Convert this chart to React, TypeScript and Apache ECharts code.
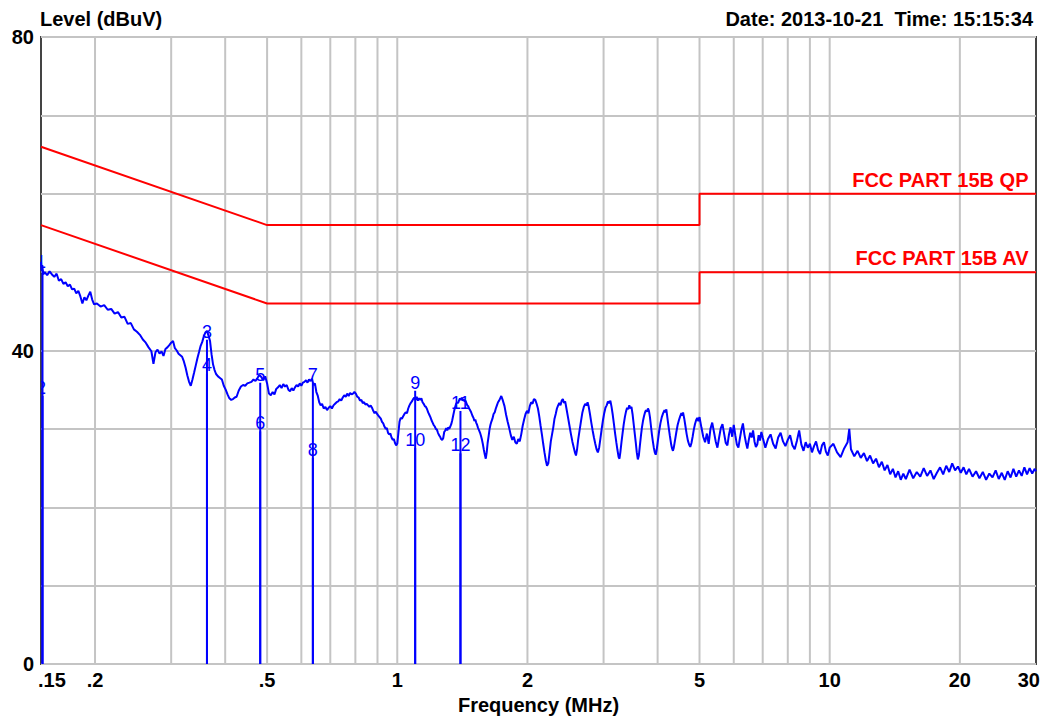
import React, { useEffect, useRef } from "react";
import * as echarts from "echarts";

const FONT = '"Liberation Sans", Arial, Helvetica, sans-serif';

// X axis tick labels (MHz) and log grid lines
const xTickFreqs = [0.15, 0.2, 0.5, 1, 2, 5, 10, 20, 30];
const xTickLabels = [".15", ".2", ".5", "1", "2", "5", "10", "20", "30"];
const xGridFreqs = [0.2, 0.3, 0.4, 0.5, 0.6, 0.7, 0.8, 0.9, 1, 2, 3, 4, 5, 6, 7, 8, 9, 10, 20];

// Y axis (dBuV)
const yMin = 0;
const yMax = 80;
const yStep = 10;
const yLabelValues = [0, 40, 80];

// Limit lines [MHz, dBuV]
const qpLimit: [number, number][] = [[0.15, 66], [0.5, 56], [5, 56], [5, 60], [30, 60]];
const avLimit: [number, number][] = [[0.15, 56], [0.5, 46], [5, 46], [5, 50], [30, 50]];
const qpLabel = "FCC PART 15B QP";
const avLabel = "FCC PART 15B AV";

// Markers
const markerNumbers = [1, 2, 3, 4, 5, 6, 7, 8, 9, 10, 11, 12];
const markerFreqs = [0.15, 0.15, 0.363, 0.363, 0.482, 0.482, 0.638, 0.638, 1.1, 1.1, 1.4, 1.4];
const markerLevels = [51.3, 35.2, 42.4, 38.1, 36.9, 30.7, 36.9, 27.3, 35.9, 28.6, 33.3, 27.9];

// Measured trace [MHz, dBuV]
const trace: [number, number][] = [
  [0.15, 51.3], [0.1505, 50.2], [0.151, 50.9], [0.1518, 49.7], [0.153, 50.0], [0.155, 49.6], [0.157, 50.1], [0.159, 49.7],
  [0.161, 49.4], [0.163, 49.8], [0.165, 48.9], [0.167, 49.1], [0.169, 48.5], [0.171, 48.7], [0.173, 48.2], [0.175, 48.4],
  [0.177, 47.8], [0.179, 47.9], [0.181, 47.3], [0.183, 47.6], [0.185, 46.9], [0.187, 46.0], [0.189, 46.8], [0.191, 46.4],
  [0.193, 47.0], [0.195, 47.5], [0.197, 46.5], [0.199, 45.9], [0.202, 46.0], [0.206, 45.6], [0.21, 45.8], [0.214, 45.2],
  [0.218, 45.3], [0.222, 44.7], [0.226, 44.9], [0.23, 44.2], [0.234, 44.3], [0.238, 43.4], [0.242, 43.5], [0.246, 42.7],
  [0.25, 42.4], [0.254, 42.0], [0.258, 41.4], [0.262, 41.0], [0.266, 40.4], [0.27, 39.9], [0.273, 38.3], [0.276, 39.8],
  [0.279, 40.1], [0.282, 39.6], [0.285, 39.9], [0.288, 39.3], [0.291, 40.2], [0.294, 40.4], [0.297, 40.7], [0.3, 41.0],
  [0.303, 41.2], [0.306, 40.3], [0.309, 40.0], [0.312, 39.6], [0.315, 39.4], [0.318, 39.2], [0.321, 38.6], [0.324, 37.8],
  [0.327, 36.8], [0.33, 36.0], [0.333, 35.5], [0.336, 36.3], [0.339, 37.2], [0.342, 38.1], [0.345, 39.0], [0.348, 39.8],
  [0.351, 40.6], [0.354, 41.1], [0.357, 41.8], [0.36, 42.3], [0.363, 42.5], [0.366, 41.9], [0.369, 41.2], [0.372, 39.5],
  [0.375, 38.2], [0.378, 37.5], [0.381, 37.0], [0.385, 36.7], [0.389, 36.5], [0.393, 36.3], [0.397, 35.5], [0.401, 35.0],
  [0.405, 34.4], [0.409, 33.9], [0.413, 33.7], [0.417, 33.8], [0.421, 34.0], [0.425, 34.1], [0.43, 34.9], [0.435, 35.4],
  [0.44, 35.6], [0.445, 35.5], [0.45, 35.8], [0.455, 35.9], [0.46, 36.0], [0.465, 36.3], [0.47, 36.1], [0.475, 36.5],
  [0.48, 36.9], [0.485, 36.6], [0.49, 36.2], [0.495, 36.7], [0.5, 35.8],
  [0.505, 34.5], [0.51, 34.3], [0.515, 34.7], [0.52, 34.4], [0.525, 35.1], [0.53, 35.3], [0.535, 35.6], [0.54, 35.2],
  [0.545, 35.7], [0.55, 35.4], [0.555, 35.6], [0.56, 35.0], [0.565, 34.8], [0.57, 35.2], [0.575, 34.9], [0.58, 35.3],
  [0.585, 35.6], [0.59, 35.4], [0.595, 35.8], [0.6, 35.5], [0.605, 35.9], [0.61, 36.0], [0.615, 36.2], [0.62, 35.9],
  [0.625, 36.3], [0.63, 36.1], [0.635, 36.4], [0.64, 35.6], [0.645, 35.8], [0.65, 34.7], [0.655, 34.2], [0.66, 33.4],
  [0.665, 33.0], [0.67, 33.2], [0.676, 32.6], [0.682, 32.8], [0.688, 32.4], [0.694, 32.7], [0.7, 32.9], [0.706, 32.6],
  [0.712, 33.0], [0.718, 33.2], [0.724, 33.4], [0.73, 33.5], [0.736, 33.8], [0.742, 33.6], [0.748, 34.0], [0.754, 34.3],
  [0.76, 34.1], [0.766, 34.5], [0.772, 34.2], [0.778, 34.6], [0.784, 34.4], [0.79, 34.5], [0.796, 34.7], [0.802, 34.5],
  [0.808, 34.1], [0.814, 34.0], [0.82, 33.6], [0.826, 33.7], [0.832, 33.3], [0.838, 33.4], [0.844, 33.1], [0.85, 33.2],
  [0.856, 33.0], [0.862, 32.8], [0.868, 33.0], [0.874, 32.7], [0.88, 32.3], [0.886, 32.0], [0.892, 32.2], [0.898, 31.9],
  [0.904, 31.7], [0.91, 31.5], [0.916, 31.3], [0.922, 30.9], [0.928, 30.7], [0.934, 30.3], [0.94, 30.0], [0.946, 30.1],
  [0.952, 29.5], [0.958, 29.3], [0.964, 29.4], [0.97, 28.9], [0.976, 28.6], [0.982, 28.7], [0.988, 28.2], [0.994, 27.9],
  [1.0, 28.1],
  [1.006, 29.5], [1.012, 30.9], [1.018, 31.4], [1.025, 31.3], [1.032, 31.6], [1.039, 31.9], [1.046, 32.1], [1.053, 32.0],
  [1.06, 32.6], [1.067, 33.0], [1.074, 33.3], [1.081, 33.5], [1.088, 33.8], [1.095, 34.0], [1.102, 33.7], [1.109, 34.1],
  [1.116, 33.6], [1.123, 33.9], [1.13, 33.7], [1.137, 33.9], [1.144, 33.4], [1.151, 33.2], [1.158, 32.9], [1.165, 32.8],
  [1.172, 32.5], [1.179, 32.1], [1.186, 31.8], [1.193, 31.5], [1.2, 31.1], [1.207, 30.8], [1.214, 30.5], [1.221, 30.3],
  [1.228, 30.0], [1.235, 29.9], [1.242, 29.5], [1.249, 29.2], [1.256, 29.0], [1.263, 28.7], [1.27, 28.6], [1.277, 28.8],
  [1.284, 29.6], [1.291, 29.8], [1.298, 30.1], [1.305, 29.8], [1.312, 30.2], [1.319, 30.0], [1.326, 30.3], [1.333, 30.6],
  [1.34, 31.1], [1.347, 31.7], [1.354, 32.3], [1.361, 32.8], [1.368, 33.2], [1.375, 33.4], [1.382, 33.3], [1.389, 33.6],
  [1.396, 33.9], [1.403, 33.7], [1.41, 34.0], [1.417, 33.6], [1.424, 33.8], [1.431, 33.5], [1.438, 33.6], [1.445, 33.3],
  [1.452, 33.0], [1.459, 32.9], [1.466, 32.6], [1.473, 32.4], [1.48, 32.2], [1.487, 31.9], [1.494, 31.6], [1.501, 31.4],
  [1.508, 31.0], [1.515, 31.2], [1.522, 30.8], [1.53, 30.5], [1.538, 30.1], [1.546, 29.8], [1.554, 29.5], [1.562, 29.1],
  [1.57, 28.6], [1.578, 28.0], [1.586, 27.3], [1.594, 26.7], [1.602, 26.2], [1.61, 27.0], [1.618, 28.2], [1.626, 29.0],
  [1.634, 29.9], [1.642, 30.5], [1.65, 30.9], [1.66, 31.3], [1.67, 31.9], [1.68, 32.1], [1.69, 32.6], [1.7, 33.0],
  [1.71, 33.4], [1.72, 33.6], [1.73, 33.9], [1.74, 34.2],
  [1.755, 33.6], [1.77, 32.9], [1.785, 31.8], [1.8, 30.9], [1.815, 30.1], [1.83, 29.2], [1.845, 28.6], [1.86, 29.0],
  [1.875, 28.3], [1.89, 28.1], [1.905, 28.7], [1.92, 28.4], [1.935, 29.3], [1.95, 30.4], [1.965, 31.2], [1.98, 31.9],
  [1.995, 32.3], [2.01, 32.0], [2.025, 32.9], [2.04, 33.4], [2.055, 33.2], [2.07, 33.8], [2.085, 33.7], [2.1, 33.2],
  [2.115, 32.6], [2.13, 31.6], [2.145, 30.4], [2.16, 29.3], [2.175, 28.1], [2.19, 27.0], [2.205, 26.0], [2.22, 25.3],
  [2.235, 25.6], [2.25, 27.0], [2.265, 28.4], [2.28, 29.3], [2.295, 30.2], [2.31, 31.3], [2.325, 31.9], [2.34, 32.6],
  [2.355, 33.0], [2.37, 33.3], [2.385, 33.0], [2.4, 33.6], [2.415, 33.8], [2.43, 33.3], [2.445, 33.5], [2.46, 32.7],
  [2.48, 31.6], [2.5, 30.5], [2.52, 29.4], [2.54, 28.4], [2.56, 27.6], [2.575, 27.0], [2.59, 26.6], [2.605, 27.4],
  [2.62, 28.6], [2.64, 29.8], [2.66, 31.0], [2.68, 32.1], [2.7, 32.8], [2.72, 33.2], [2.74, 33.0], [2.755, 33.4],
  [2.77, 32.9], [2.79, 31.9], [2.81, 30.8], [2.83, 29.8], [2.85, 28.9], [2.87, 28.1], [2.89, 27.4], [2.91, 27.0],
  [2.93, 27.6], [2.95, 28.8], [2.97, 30.0], [2.99, 31.1], [3.01, 32.0], [3.03, 32.7], [3.05, 33.0], [3.07, 33.5],
  [3.09, 33.3], [3.11, 33.6], [3.13, 32.8], [3.15, 31.8], [3.17, 30.6], [3.19, 29.4], [3.21, 28.3], [3.23, 27.3],
  [3.25, 26.4], [3.265, 26.2], [3.28, 27.0], [3.3, 28.3], [3.32, 29.5], [3.34, 30.6], [3.36, 31.5], [3.38, 32.2],
  [3.4, 32.7], [3.42, 32.5], [3.44, 33.0], [3.46, 32.6], [3.48, 32.8], [3.5, 31.9], [3.52, 30.7], [3.54, 29.5],
  [3.56, 28.3], [3.58, 27.0], [3.6, 26.1], [3.62, 26.6], [3.64, 27.9], [3.66, 29.1], [3.68, 30.2], [3.7, 31.0],
  [3.72, 31.6], [3.74, 32.1], [3.76, 32.4], [3.78, 32.2], [3.8, 32.6], [3.82, 32.3], [3.84, 31.5], [3.86, 30.4],
  [3.88, 29.3], [3.9, 28.4], [3.92, 27.6], [3.94, 27.0], [3.96, 26.7], [3.98, 27.3], [4.0, 28.2], [4.03, 29.6],
  [4.06, 30.7], [4.09, 31.5], [4.12, 32.0], [4.15, 32.4], [4.17, 32.1], [4.19, 32.5], [4.21, 31.6], [4.24, 30.3],
  [4.27, 29.1], [4.3, 28.0], [4.32, 27.5], [4.34, 27.2], [4.36, 27.6], [4.39, 28.6], [4.42, 29.6], [4.45, 30.5],
  [4.48, 31.1], [4.51, 31.6], [4.54, 32.0], [4.56, 31.7], [4.58, 32.1], [4.61, 31.3], [4.64, 30.3], [4.67, 29.3],
  [4.7, 28.5], [4.73, 28.0], [4.76, 27.7], [4.79, 28.2], [4.82, 29.0], [4.85, 29.9], [4.88, 30.6], [4.91, 31.1],
  [4.94, 31.4], [4.97, 31.0], [5.0, 31.5],
  [5.05, 30.2], [5.1, 29.0], [5.15, 28.3], [5.2, 29.4], [5.25, 28.1], [5.3, 30.0], [5.35, 30.8], [5.4, 29.6],
  [5.45, 28.4], [5.5, 27.6], [5.55, 28.9], [5.6, 30.1], [5.65, 30.6], [5.7, 29.4], [5.75, 28.2], [5.8, 27.9],
  [5.85, 29.3], [5.9, 30.2], [5.95, 29.0], [6.0, 30.5], [6.05, 29.2], [6.1, 28.0], [6.15, 27.6], [6.2, 28.8],
  [6.25, 29.9], [6.3, 30.7], [6.35, 29.3], [6.4, 28.3], [6.45, 27.5], [6.5, 28.6], [6.55, 29.5], [6.6, 28.9],
  [6.65, 29.8], [6.7, 28.4], [6.75, 27.7], [6.8, 28.0], [6.85, 29.2], [6.9, 28.5], [6.95, 29.6], [7.0, 28.9],
  [7.1, 27.6], [7.2, 28.7], [7.3, 29.3], [7.4, 28.1], [7.5, 27.5], [7.6, 28.9], [7.7, 29.5], [7.8, 28.4],
  [7.9, 27.8], [8.0, 28.6], [8.1, 29.2], [8.2, 27.9], [8.3, 27.4], [8.4, 28.5], [8.5, 29.8], [8.6, 28.0],
  [8.7, 27.2], [8.8, 28.3], [8.9, 27.6], [9.0, 28.1], [9.1, 27.0], [9.2, 27.8], [9.3, 28.4], [9.4, 27.3],
  [9.5, 26.8], [9.6, 27.9], [9.7, 28.3], [9.8, 27.1], [9.9, 26.6], [10.0, 27.6],
  [10.2, 28.1], [10.4, 27.0], [10.6, 26.4], [10.8, 27.5], [11.0, 28.3], [11.1, 30.0], [11.2, 27.4], [11.4, 26.5],
  [11.6, 27.2], [11.8, 26.3], [12.0, 26.9], [12.2, 25.9], [12.4, 26.6], [12.6, 25.6], [12.8, 26.2], [13.0, 25.1],
  [13.2, 25.8], [13.4, 24.7], [13.6, 25.4], [13.8, 24.2], [14.0, 24.9], [14.2, 23.8], [14.4, 24.6], [14.6, 23.5],
  [14.8, 24.3], [15.0, 23.6], [15.3, 24.8], [15.6, 23.7], [15.9, 24.5], [16.2, 23.9], [16.5, 25.0], [16.8, 24.0],
  [17.1, 24.7], [17.4, 23.6], [17.7, 24.4], [18.0, 25.1], [18.3, 24.2], [18.6, 25.3], [18.9, 24.5], [19.2, 25.6],
  [19.5, 24.7], [19.8, 25.2], [20.1, 24.4], [20.4, 25.1], [20.7, 24.2], [21.0, 24.9], [21.4, 23.9], [21.8, 24.6],
  [22.2, 23.7], [22.6, 24.5], [23.0, 23.5], [23.4, 24.3], [23.8, 23.8], [24.2, 24.7], [24.6, 23.6], [25.0, 24.4],
  [25.4, 23.5], [25.8, 24.6], [26.2, 23.8], [26.6, 24.9], [27.0, 23.9], [27.4, 24.7], [27.8, 24.0], [28.2, 25.1],
  [28.6, 24.2], [29.0, 25.0], [29.4, 24.3], [29.8, 24.9], [30.0, 24.6],
];

const GRID_COLOR = "#c4c4c4";
const BLUE = "#0000ff";
const RED = "#ff0000";

export default function App() {
  const ref = useRef<HTMLDivElement>(null);

  useEffect(() => {
    if (!ref.current) return;
    const chart = echarts.init(ref.current, null, { renderer: "svg" });
    const lastTick = xTickFreqs.length - 1;

    const limitMarkPoint = (coord: [number, number], text: string) => ({
      symbol: "circle",
      symbolSize: 1,
      silent: true,
      itemStyle: { color: "transparent" },
      data: [{ coord }],
      label: {
        show: true,
        position: "left",
        distance: 0,
        offset: [-7, -14],
        formatter: text,
        color: RED,
        fontSize: 20,
        fontWeight: "bold",
        fontFamily: FONT,
      },
    });

    chart.setOption({
      animation: false,
      backgroundColor: "#ffffff",
      title: [
        {
          text: "Level (dBuV)",
          left: 40,
          top: 9,
          padding: 0,
          textStyle: { fontFamily: FONT, fontSize: 20, fontWeight: "bold", color: "#000" },
        },
        {
          text: "Date: 2013-10-21  Time: 15:15:34",
          right: 27,
          top: 9,
          padding: 0,
          textStyle: { fontFamily: FONT, fontSize: 20, fontWeight: "bold", color: "#000" },
        },
      ],
      grid: {
        left: 41,
        right: 24,
        top: 37,
        bottom: 58,
        show: true,
        borderColor: "#444444",
        borderWidth: 2,
        backgroundColor: "transparent",
      },
      xAxis: {
        type: "log",
        logBase: 10,
        min: 0.15,
        max: 30,
        name: "Frequency (MHz)",
        nameLocation: "middle",
        nameGap: 31,
        nameTextStyle: { fontFamily: FONT, fontSize: 20, fontWeight: "bold", color: "#000" },
        axisLine: { show: false },
        axisTick: { show: false },
        axisLabel: { show: false },
        splitLine: { show: false },
        minorSplitLine: { show: false },
      },
      yAxis: {
        type: "value",
        min: yMin,
        max: yMax,
        interval: yStep,
        axisLine: { show: false },
        axisTick: { show: false },
        axisLabel: {
          margin: 7,
          fontFamily: FONT,
          fontSize: 20,
          fontWeight: "bold",
          color: "#000",
          formatter: (v: number) => (yLabelValues.indexOf(v) >= 0 ? String(v) : ""),
        },
        splitLine: { show: true, lineStyle: { color: GRID_COLOR, width: 2 } },
      },
      series: [
        {
          name: "vgrid",
          type: "custom",
          z: 1,
          silent: true,
          clip: false,
          data: xGridFreqs.map((f) => [f, yMin]),
          renderItem: (_params: any, api: any) => {
            const f = api.value(0);
            const a = api.coord([f, yMin]);
            const b = api.coord([f, yMax]);
            return {
              type: "line",
              shape: { x1: a[0], y1: a[1], x2: b[0], y2: b[1] },
              style: { stroke: GRID_COLOR, lineWidth: 2 },
            };
          },
        },
        {
          name: "xticks",
          type: "custom",
          z: 3,
          silent: true,
          clip: false,
          data: xTickFreqs.map((f) => [f, yMin]),
          renderItem: (params: any, api: any) => {
            const i = params.dataIndex;
            const p = api.coord([api.value(0), yMin]);
            const dx = i === 0 ? -3 : i === lastTick ? 4 : 0;
            return {
              type: "text",
              x: p[0] + dx,
              y: p[1] + 16,
              style: {
                text: xTickLabels[i],
                font: `bold 20px ${FONT}`,
                fill: "#000",
                align: i === 0 ? "left" : i === lastTick ? "right" : "center",
                verticalAlign: "middle",
              },
            };
          },
        },
        {
          name: "QP limit",
          type: "line",
          z: 3,
          data: qpLimit,
          symbol: "none",
          silent: true,
          lineStyle: { color: RED, width: 2 },
          markPoint: limitMarkPoint([30, 60], qpLabel),
        },
        {
          name: "AV limit",
          type: "line",
          z: 3,
          data: avLimit,
          symbol: "none",
          silent: true,
          lineStyle: { color: RED, width: 2 },
          markPoint: limitMarkPoint([30, 50], avLabel),
        },
        {
          name: "Trace",
          type: "line",
          z: 4,
          data: trace,
          symbol: "none",
          silent: true,
          lineStyle: { color: BLUE, width: 2 },
        },
        {
          name: "Markers",
          type: "custom",
          z: 6,
          silent: true,
          clip: true,
          data: markerFreqs.map((f, i) => [f, markerLevels[i]]),
          renderItem: (params: any, api: any) => {
            const i = params.dataIndex;
            const f = api.value(0);
            const p = api.coord([f, api.value(1)]);
            const base = api.coord([f, yMin]);
            const left = params.coordSys ? params.coordSys.x : 0;
            const lx = Math.max(p[0], left + 1.5);
            return {
              type: "group",
              children: [
                {
                  type: "line",
                  shape: { x1: lx, y1: base[1], x2: lx, y2: p[1] + 8 },
                  style: { stroke: BLUE, lineWidth: 2 },
                },
                {
                  type: "text",
                  x: p[0],
                  y: p[1],
                  style: {
                    text: String(markerNumbers[i]),
                    font: `18px ${FONT}`,
                    fill: BLUE,
                    align: "center",
                    verticalAlign: "middle",
                  },
                },
              ],
            };
          },
        },
      ],
    });

    return () => chart.dispose();
  }, []);

  return (
    <div
      ref={ref}
      style={{ position: "absolute", left: 0, top: 0, width: 1060, height: 722, background: "#fff" }}
    />
  );
}
